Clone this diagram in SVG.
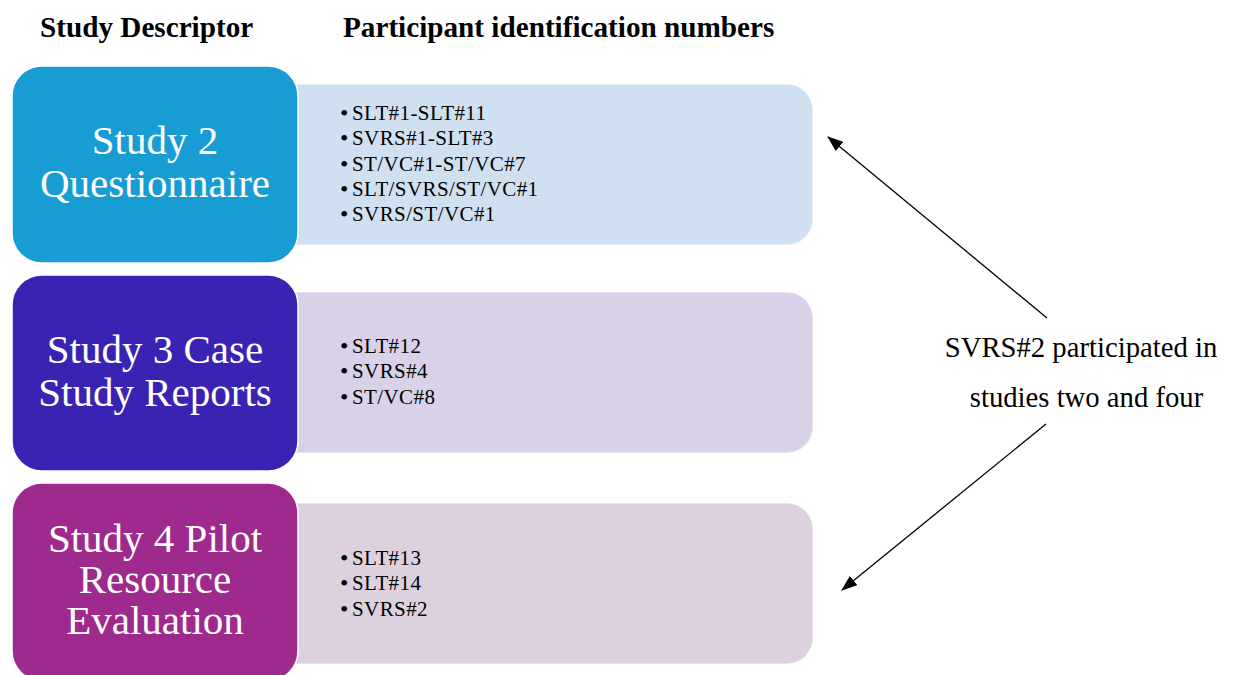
<svg xmlns="http://www.w3.org/2000/svg" width="1233" height="675" viewBox="0 0 1233 675">
  <style>
    .hdr { font-family: "Liberation Serif", "Times New Roman", serif; font-weight: bold; font-size: 29.2px; fill: #000; }
    .title { font-family: "Liberation Serif", "Times New Roman", serif; font-size: 41px; fill: #fff; text-anchor: middle; }
    .item { font-family: "Liberation Serif", "Times New Roman", serif; font-size: 21px; letter-spacing: 0.4px; fill: #000; }
    .dot { font-family: "Liberation Serif", "Times New Roman", serif; font-size: 24px; fill: #000; }
    .note { font-family: "Liberation Serif", "Times New Roman", serif; font-size: 28.7px; fill: #000; text-anchor: middle; }
    .head { stroke: #fff; stroke-width: 1.5; }
    .list { stroke: #ffffff; stroke-opacity: 0.55; stroke-width: 1.5; }
    .link { stroke: #000; stroke-width: 1.3; fill: none; marker-end: url(#arrow); }
  </style>
  <defs>
    <marker id="arrow" viewBox="0 0 16 12" refX="15" refY="6" markerWidth="16" markerHeight="12" markerUnits="userSpaceOnUse" orient="auto">
      <path d="M0,0 L16,6 L0,12 Z" fill="#000"/>
    </marker>
  </defs>

  <rect width="1233" height="675" fill="#fff"/>

  <!-- column headings -->
  <text class="hdr" x="40" y="37">Study Descriptor</text>
  <text class="hdr" x="343" y="37">Participant identification numbers</text>

  <!-- Study 2 -->
  <g id="study2">
    <rect class="list" x="260" y="84" width="553" height="161" rx="26" fill="#cfe0f1"/>
    <rect class="head" x="12" y="66" width="286" height="197" rx="30" fill="#179dd3"/>
    <text class="title" x="155" y="154">Study 2</text>
    <text class="title" x="155" y="197">Questionnaire</text>
    <g class="dot">
      <text x="340" y="121">•</text>
      <text x="340" y="146.3">•</text>
      <text x="340" y="171.6">•</text>
      <text x="340" y="196.9">•</text>
      <text x="340" y="222.2">•</text>
    </g>
    <g class="item">
      <text x="352" y="120">SLT#1-SLT#11</text>
      <text x="352" y="145.3">SVRS#1-SLT#3</text>
      <text x="352" y="170.6">ST/VC#1-ST/VC#7</text>
      <text x="352" y="195.9">SLT/SVRS/ST/VC#1</text>
      <text x="352" y="221.2">SVRS/ST/VC#1</text>
    </g>
  </g>

  <!-- Study 3 -->
  <g id="study3">
    <rect class="list" x="260" y="292" width="553" height="161" rx="26" fill="#d8d1e8"/>
    <rect class="head" x="12" y="275" width="286" height="196" rx="30" fill="#3a22b3"/>
    <text class="title" x="155" y="363">Study 3 Case</text>
    <text class="title" x="155" y="406">Study Reports</text>
    <g class="dot">
      <text x="340" y="354">•</text>
      <text x="340" y="379.3">•</text>
      <text x="340" y="404.6">•</text>
    </g>
    <g class="item">
      <text x="352" y="353">SLT#12</text>
      <text x="352" y="378.3">SVRS#4</text>
      <text x="352" y="403.6">ST/VC#8</text>
    </g>
  </g>

  <!-- Study 4 -->
  <g id="study4">
    <rect class="list" x="260" y="503" width="553" height="161" rx="26" fill="#ddd0df"/>
    <rect class="head" x="12" y="483" width="286" height="198" rx="30" fill="#9e2a8e"/>
    <text class="title" x="155" y="552">Study 4 Pilot</text>
    <text class="title" x="155" y="593">Resource</text>
    <text class="title" x="155" y="634">Evaluation</text>
    <g class="dot">
      <text x="340" y="566">•</text>
      <text x="340" y="591.3">•</text>
      <text x="340" y="616.6">•</text>
    </g>
    <g class="item">
      <text x="352" y="565">SLT#13</text>
      <text x="352" y="590.3">SLT#14</text>
      <text x="352" y="615.6">SVRS#2</text>
    </g>
  </g>

  <!-- annotation -->
  <g id="note">
    <text class="note" x="1081" y="357">SVRS#2 participated in</text>
    <text class="note" x="1086.5" y="407">studies two and four</text>
  </g>

  <!-- connectors -->
  <g id="connectors">
    <line class="link" x1="1047" y1="318" x2="828" y2="137"/>
    <line class="link" x1="1046" y1="424" x2="842" y2="590"/>
  </g>
</svg>
